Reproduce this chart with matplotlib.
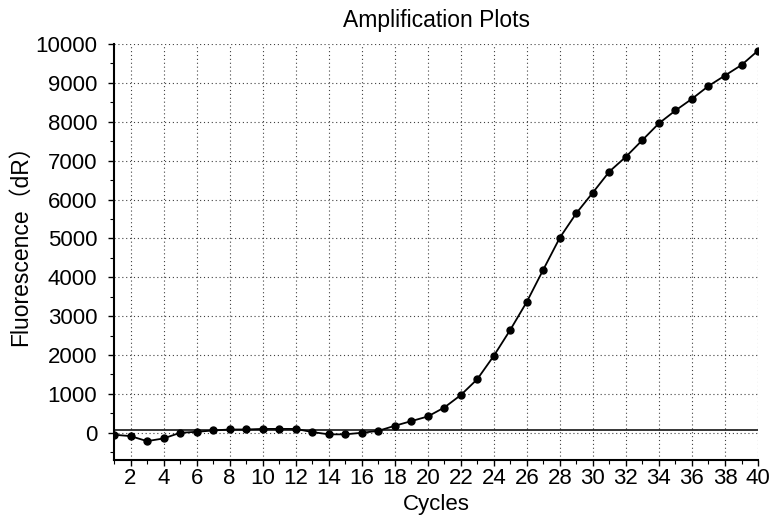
import matplotlib
matplotlib.use("Agg")
import matplotlib.pyplot as plt
from matplotlib.ticker import MultipleLocator

plt.rcParams['font.family'] = ['Liberation Sans', 'Noto Sans CJK SC', 'DejaVu Sans']

cycles = list(range(1, 41))
fluorescence = [-50, -85, -215, -145, 0, 25, 60, 85, 85, 100,
                100, 100, 20, -40, -40, 0, 50, 180, 300, 420,
                650, 970, 1380, 1980, 2650, 3370, 4200, 5020, 5650, 6180,
                6720, 7100, 7530, 7960, 8290, 8590, 8920, 9190, 9460, 9830]
threshold = 80

title = "Amplification Plots"
xlabel = "Cycles"
ylabel = "Fluorescence（dR）"

fig = plt.figure(figsize=(7.72, 5.16), dpi=100)
ax = fig.add_axes([0.1477, 0.1085, 0.8342, 0.8062])

ax.plot(cycles, fluorescence, color='black', lw=1.3, marker='o', ms=5, zorder=3)
ax.axhline(threshold, color='black', lw=1.1, zorder=2)

ax.set_xlim(1, 40)
ax.set_ylim(-700, 10000)
ax.xaxis.set_major_locator(MultipleLocator(2))
ax.xaxis.set_minor_locator(MultipleLocator(1))
ax.yaxis.set_major_locator(MultipleLocator(1000))
ax.yaxis.set_minor_locator(MultipleLocator(500))

ax.grid(True, which='major', color='0.25', linestyle=(0, (1, 2.5)), lw=0.8)
for s in ['top', 'right']:
    ax.spines[s].set_visible(False)
for s in ['left', 'bottom']:
    ax.spines[s].set_linewidth(1.5)

ax.tick_params(axis='x', which='major', direction='out', length=4, width=1, labelsize=16, pad=2)
ax.tick_params(axis='y', which='major', direction='out', length=4, width=1, labelsize=16, pad=8)
ax.tick_params(axis='both', which='minor', direction='out', length=3, width=0.8)

ax.set_title(title, fontsize=16.5, pad=12)
ax.set_xlabel(xlabel, fontsize=16, labelpad=3)
ax.set_ylabel(ylabel, fontsize=16.5)
ax.yaxis.set_label_coords(-0.128, 0.53)

fig.savefig("out.png", dpi=100)
